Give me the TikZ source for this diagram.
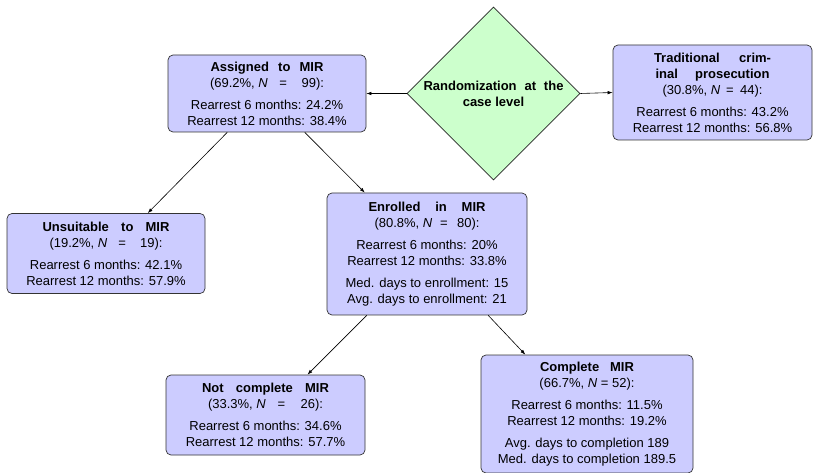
\documentclass[tikz,border=0pt]{standalone}
\usepackage{fontspec}
\setmainfont{Liberation Sans}
\usetikzlibrary{shapes.geometric,arrows.meta,calc}
\definecolor{boxblue}{RGB}{204,204,255}
\definecolor{diagreen}{RGB}{204,255,204}
\newcommand{\ttl}[2]{\makebox[#1pt][s]{\bfseries #2}}
\newcommand{\pct}[3]{\makebox[#1pt][s]{(#2, \textit{N}\hspace{0.28em plus 1fil}=\hspace{0.28em plus 1.4fil}#3):}}
\begin{document}
\begin{tikzpicture}[x=1pt,y=-1pt,
  infobox/.style={draw=black!80, fill=boxblue, rounded corners=5pt, align=center,
    inner sep=0pt, line width=0.7pt, font=\fontsize{13}{16}\selectfont},
  conn/.style={-{Latex[length=5pt,width=3.5pt]}, line width=0.6pt, black}]
\useasboundingbox (0,0) rectangle (820,473);

\node[diamond, aspect=1, draw=black!85, fill=diagreen, line width=0.7pt,
  minimum width=173pt, minimum height=173pt, inner sep=0pt,
  label={[align=center, font=\fontsize{13}{16}\selectfont\bfseries]center:\ttl{140}{Randomization at the}\\case level}]
  (rand) at (493.5,93.5) {};

\node[infobox, minimum width=198pt, minimum height=77pt] (asg) at (267,93.5)
  {\ttl{113}{Assigned to MIR}\\\pct{114}{69.2\%}{99}\\[6pt]
   Rearrest 6 months: 24.2\%\\Rearrest 12 months: 38.4\%};

\node[infobox, minimum width=199pt, minimum height=95pt] (trad) at (712.5,92.5)
  {\ttl{117}{Traditional crim-}\\\ttl{114}{inal prosecution}\\\pct{100}{30.8\%}{44}\\[6pt]
   Rearrest 6 months: 43.2\%\\Rearrest 12 months: 56.8\%};

\node[infobox, minimum width=198pt, minimum height=80pt] (uns) at (106,253.5)
  {\ttl{127}{Unsuitable to MIR}\\\pct{113}{19.2\%}{19}\\[6pt]
   Rearrest 6 months: 42.1\%\\Rearrest 12 months: 57.9\%};

\node[infobox, minimum width=200pt, minimum height=122pt] (enr) at (427,254)
  {\ttl{117}{Enrolled in MIR}\\\pct{105}{80.8\%}{80}\\[6pt]
   Rearrest 6 months: 20\%\\Rearrest 12 months: 33.8\%\\[6pt]
   Med. days to enrollment: 15\\Avg. days to enrollment: 21};

\node[infobox, minimum width=199pt, minimum height=80pt] (ncm) at (265.5,415)
  {\ttl{127}{Not complete MIR}\\\pct{115}{33.3\%}{26}\\[6pt]
   Rearrest 6 months: 34.6\%\\Rearrest 12 months: 57.7\%};

\node[infobox, minimum width=212pt, minimum height=118pt] (cmp) at (587,414)
  {\ttl{94}{Complete MIR}\\(66.7\%, \textit{N} = 52):\\[6pt]
   Rearrest 6 months: 11.5\%\\Rearrest 12 months: 19.2\%\\[6pt]
   Avg. days to completion 189\\Med. days to completion 189.5};

\draw[conn] (rand.west) -- (asg.east);
\draw[conn] (rand.east) -- (trad.west);
\draw[conn] ($(asg.south west)!0.30!(asg.south east)$) -- ($(uns.north west)!0.71!(uns.north east)$);
\draw[conn] ($(asg.south west)!0.69!(asg.south east)$) -- ($(enr.north west)!0.19!(enr.north east)$);
\draw[conn] ($(enr.south west)!0.20!(enr.south east)$) -- ($(ncm.north west)!0.71!(ncm.north east)$);
\draw[conn] ($(enr.south west)!0.805!(enr.south east)$) -- ($(cmp.north west)!0.21!(cmp.north east)$);
\end{tikzpicture}
\end{document}
